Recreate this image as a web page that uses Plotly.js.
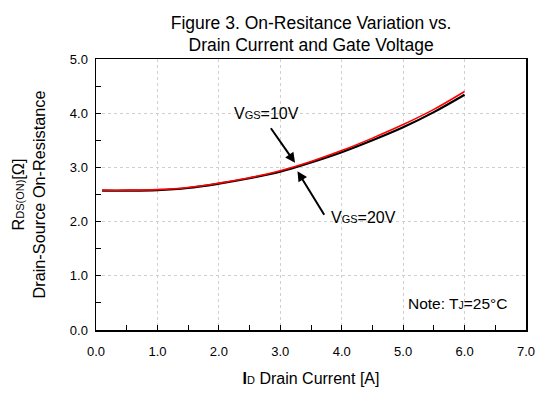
<!DOCTYPE html>
<html>
<head>
<meta charset="utf-8">
<script src="https://cdn.plot.ly/plotly-3.0.1.min.js"></script>
<style>html,body{margin:0;padding:0;background:#fff;}#chart{width:542px;height:408px;}</style>
</head>
<body>
<div id="chart"></div>
<script>
// Drain current [A]
const drainCurrent = [0.1, 0.5, 1.0, 1.5, 2.0, 2.5, 3.0, 3.5, 4.0, 4.5, 5.0, 5.5, 6.0];
// RDS(on) [Ohm] at VGS = 10 V (red)
const rdsVgs10 = [2.58, 2.58, 2.59, 2.63, 2.71, 2.81, 2.94, 3.11, 3.31, 3.54, 3.79, 4.07, 4.40];
// RDS(on) [Ohm] at VGS = 20 V (black)
const rdsVgs20 = [2.57, 2.57, 2.58, 2.62, 2.70, 2.80, 2.92, 3.09, 3.28, 3.50, 3.74, 4.02, 4.34];
const seriesNames = ['V<sub>GS</sub>=10V', 'V<sub>GS</sub>=20V'];
const xTickVals = [0, 1, 2, 3, 4, 5, 6, 7];
const xTickText = ['0.0', '1.0', '2.0', '3.0', '4.0', '5.0', '6.0', '7.0'];
const yTickVals = [0, 1, 2, 3, 4, 5];
const yTickText = ['0.0', '1.0', '2.0', '3.0', '4.0', '5.0'];

const FONT = 'Liberation Sans, Arial, sans-serif';

const traces = [
  {x: drainCurrent, y: rdsVgs20, name: seriesNames[1], mode: 'lines',
   line: {color: '#000000', width: 2.2, shape: 'spline'}},
  {x: drainCurrent, y: rdsVgs10, name: seriesNames[0], mode: 'lines',
   line: {color: '#ff0000', width: 1.6, shape: 'spline'}}
];

const axisCommon = {
  showline: true, mirror: true, linecolor: '#000', linewidth: 1.5,
  ticks: 'inside', ticklen: 5, tickcolor: '#000', tickwidth: 1,
  showgrid: true, gridcolor: '#cfcfcf', griddash: 'dot', gridwidth: 1,
  zeroline: false, tickfont: {family: FONT, size: 13, color: '#000'},
  minor: {dtick: 0.5, ticks: 'inside', ticklen: 5, tickcolor: '#000', showgrid: false}
};

const layout = {
  width: 542, height: 408,
  margin: {l: 96, r: 16, t: 59, b: 78},
  paper_bgcolor: '#fff', plot_bgcolor: '#fff',
  showlegend: false,
  font: {family: FONT, color: '#000'},
  title: {text: 'Figure 3. On-Resitance Variation vs.<br>Drain Current and Gate Voltage',
          font: {family: FONT, size: 17.5, color: '#000'},
          x: 0.574, xanchor: 'center', yref: 'container', y: 0.93, yanchor: 'middle'},
  xaxis: Object.assign({}, axisCommon, {
    range: [0, 7], tickvals: xTickVals, ticktext: xTickText, ticklabelstandoff: 9,
    title: {text: '<b>I</b><span style="font-size:11px">D</span> Drain Current [A]',
            font: {family: FONT, size: 16, color: '#000'}, standoff: 14}
  }),
  yaxis: Object.assign({}, axisCommon, {
    range: [0, 5], tickvals: yTickVals, ticktext: yTickText, ticklabelstandoff: 4,
    title: {text: 'R<span style="font-size:11px">DS(ON)</span>[Ω]<br>Drain-Source On-Resistance',
            font: {family: FONT, size: 16.3, color: '#000'}, standoff: 20}
  }),
  annotations: [
    {x: 3.24, y: 3.085, ax: 2.83, ay: 3.75, axref: 'x', ayref: 'y', xref: 'x', yref: 'y',
     showarrow: true, arrowhead: 2, arrowsize: 1, arrowwidth: 2, arrowcolor: '#000', text: ''},
    {x: 3.28, y: 2.93, ax: 3.73, ay: 2.10, axref: 'x', ayref: 'y', xref: 'x', yref: 'y',
     showarrow: true, arrowhead: 2, arrowsize: 1, arrowwidth: 2, arrowcolor: '#000', text: ''},
    {x: 2.77, y: 3.99, xref: 'x', yref: 'y', showarrow: false,
     text: 'V<span style="font-size:11px">GS</span>=10V', font: {family: FONT, size: 16, color: '#000'}},
    {x: 4.35, y: 2.08, xref: 'x', yref: 'y', showarrow: false,
     text: 'V<span style="font-size:11px">GS</span>=20V', font: {family: FONT, size: 16, color: '#000'}},
    {x: 5.88, y: 0.49, xref: 'x', yref: 'y', showarrow: false,
     text: 'Note: T<span style="font-size:10.5px">J</span>=25°C', font: {family: FONT, size: 15.5, color: '#000'}}
  ]
};

Plotly.newPlot('chart', traces, layout, {displayModeBar: false, staticPlot: true});
</script>
</body>
</html>
